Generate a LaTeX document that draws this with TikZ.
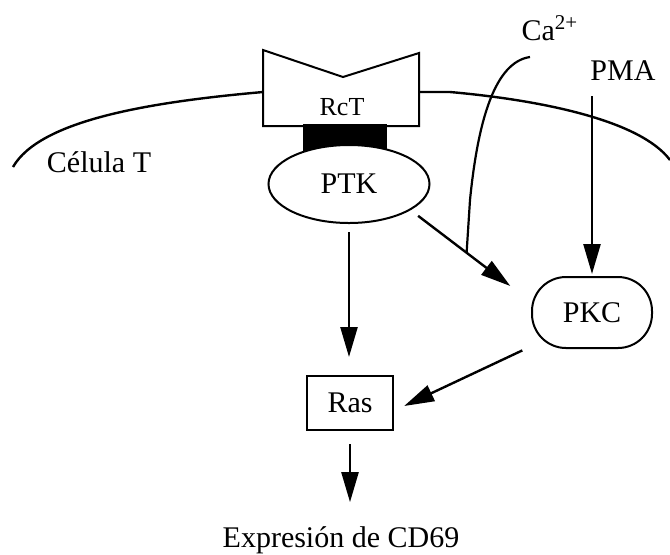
\documentclass[tikz,border=0pt]{standalone}
\usepackage{fontspec}
\setmainfont{Liberation Serif}
\usetikzlibrary{arrows.meta, shapes.geometric, calc}
\tikzset{
  protein/.style = {shape=ellipse, draw, fill=white,
                    minimum width=80.5pt, minimum height=39pt, inner sep=0pt},
  kinase/.style  = {shape=rectangle, rounded corners=17pt, draw,
                    minimum width=60pt, minimum height=35.5pt},
  gtpase/.style  = {shape=rectangle, draw,
                    minimum width=43pt, minimum height=27pt},
  tag/.style     = {inner sep=0pt, anchor=base},
  membrane/.style = {line width=1.2pt},
  act/.style     = {draw, line width=1.2pt, -{Triangle[length=15pt, width=8.5pt]}}
}

\begin{document}
\begin{tikzpicture}[
  x=0.5pt, y=-0.5pt,
  line width=1pt,
  every node/.style = {font=\fontsize{15}{17}\selectfont}
  ]
\useasboundingbox (0,0) rectangle (670,554);

% receptor and its anchor in the membrane
\coordinate (rctL) at (263,92);
\coordinate (rctR) at (419,92);
\fill (303,124) rectangle (387,155);
\draw (263,126) -- (263,50) -- (343,77) -- (419,53) -- (419,126) -- cycle;
\node[tag, font=\fontsize{13}{15}\selectfont] (rct) at (342,115) {RcT};

% membrane
\draw[membrane] (rctL) .. controls (150,102) and (40,120) .. (13,167);
\draw[membrane] (rctR) -- (450,92) .. controls (540,100) and (640,120) .. (670,160);
\node[tag] (cell) at (99,172) {Célula T};

\node[protein] (ptk) at (349,184) {PTK};
\node[kinase] (pkc) at (592,312.5) {PKC};
\node[gtpase] (ras) at (350,403) {Ras};
\node[tag] (ca) at (550,40) {Ca\textsuperscript{2+}};
\node[tag] (pma) at (623,80) {PMA};
\node[tag] (expr) at (341,547) {Expresión de CD69};

% signalling
\draw[act, shorten <=4pt, shorten >=9pt] (ptk.south) -- (ptk.south |- ras.north);
\draw[act, shorten <=4.7pt, shorten >=13pt] (ptk.-23) -- (pkc.170);
\draw[act, shorten <=7.5pt, shorten >=1pt] (pkc.north |- pma.south) -- (pkc.north);
\draw[act, shorten <=4.8pt, shorten >=5.6pt] (pkc.209) -- (ras.-10);
\draw[act, shorten <=6.5pt, shorten >=11.5pt] (ras.south) -- (ras.south |- expr.north);

% calcium entry
\coordinate (castart) at (530,57);
\coordinate (cajoin) at ($(ptk.-23)!0.465!(pkc.170)$);
\draw[line width=1.1pt] (castart) .. controls (495,62) and (478,120) .. (470,200) -- (cajoin);
\end{tikzpicture}
\end{document}
